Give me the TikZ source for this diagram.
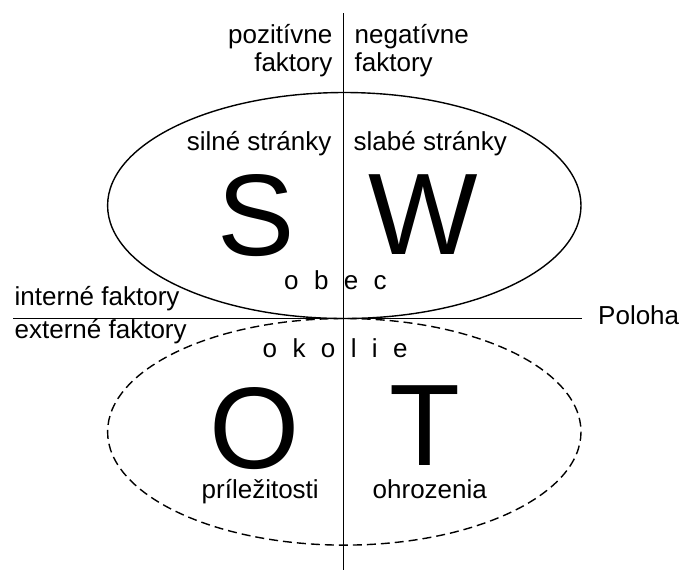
\documentclass[tikz,border=0pt]{standalone}
\usepackage{fontspec}
\setmainfont{Liberation Sans}
\tikzset{
  txt/.style={font=\fontsize{13pt}{15pt}\selectfont, inner sep=0pt},
  bigletter/.style={font=\fontsize{58pt}{60pt}\selectfont, inner sep=0pt, anchor=base, text height=42pt, text depth=0pt},
}
\newcommand{\gap}{\hspace{7.7pt}}
\begin{document}
\begin{tikzpicture}[x=0.5pt, y=-0.5pt, line width=0.7pt]
\useasboundingbox (0,0) rectangle (681,570);
\coordinate (top) at (343.5,13);
\coordinate (bottom) at (343.5,570);
\coordinate (left) at (13,318.5);
\coordinate (right) at (582,318.5);
\draw (top) -- (bottom);
\draw (left) -- (right);
\draw (344.3,205.5) ellipse [x radius=236.7, y radius=113];
\draw[dash pattern=on 4.5pt off 2.5pt] (344.3,431.8) ellipse [x radius=236.7, y radius=113.3];

\node[txt, anchor=base east] (poz) at (333,43.5) {pozitívne};
\node[txt, anchor=base east] (pozf) at (333,71.5) {faktory};
\node[txt, anchor=base west] (neg) at (354,43.5) {negatívne};
\node[txt, anchor=base west] (negf) at (354,71.5) {faktory};
\node[txt, anchor=base east] (silne) at (332,150) {silné stránky};
\node[txt, anchor=base west] (slabe) at (353,150) {slabé stránky};
\node[bigletter] (S) at (256,255) {S};
\node[bigletter] (W) at (423.5,254) {W};
\node[txt, anchor=base west] (obec) at (283.5,289.3) {o\gap b\gap e\gap c};
\node[txt, anchor=base west] (interne) at (14,305) {interné faktory};
\node[txt, anchor=base west] (externe) at (14,338.3) {externé faktory};
\node[txt, anchor=base west] (poloha) at (597.5,324.3) {Poloha};
\node[txt, anchor=base west] (okolie) at (262,357.3) {o\gap k\gap o\gap l\gap i\gap e};
\node[bigletter] (O) at (255,468) {O};
\node[bigletter] (T) at (424.5,465) {T};
\node[txt, anchor=base west] (prilez) at (201,498.3) {príležitosti};
\node[txt, anchor=base west] (ohroz) at (372,498.3) {ohrozenia};
\end{tikzpicture}
\end{document}
